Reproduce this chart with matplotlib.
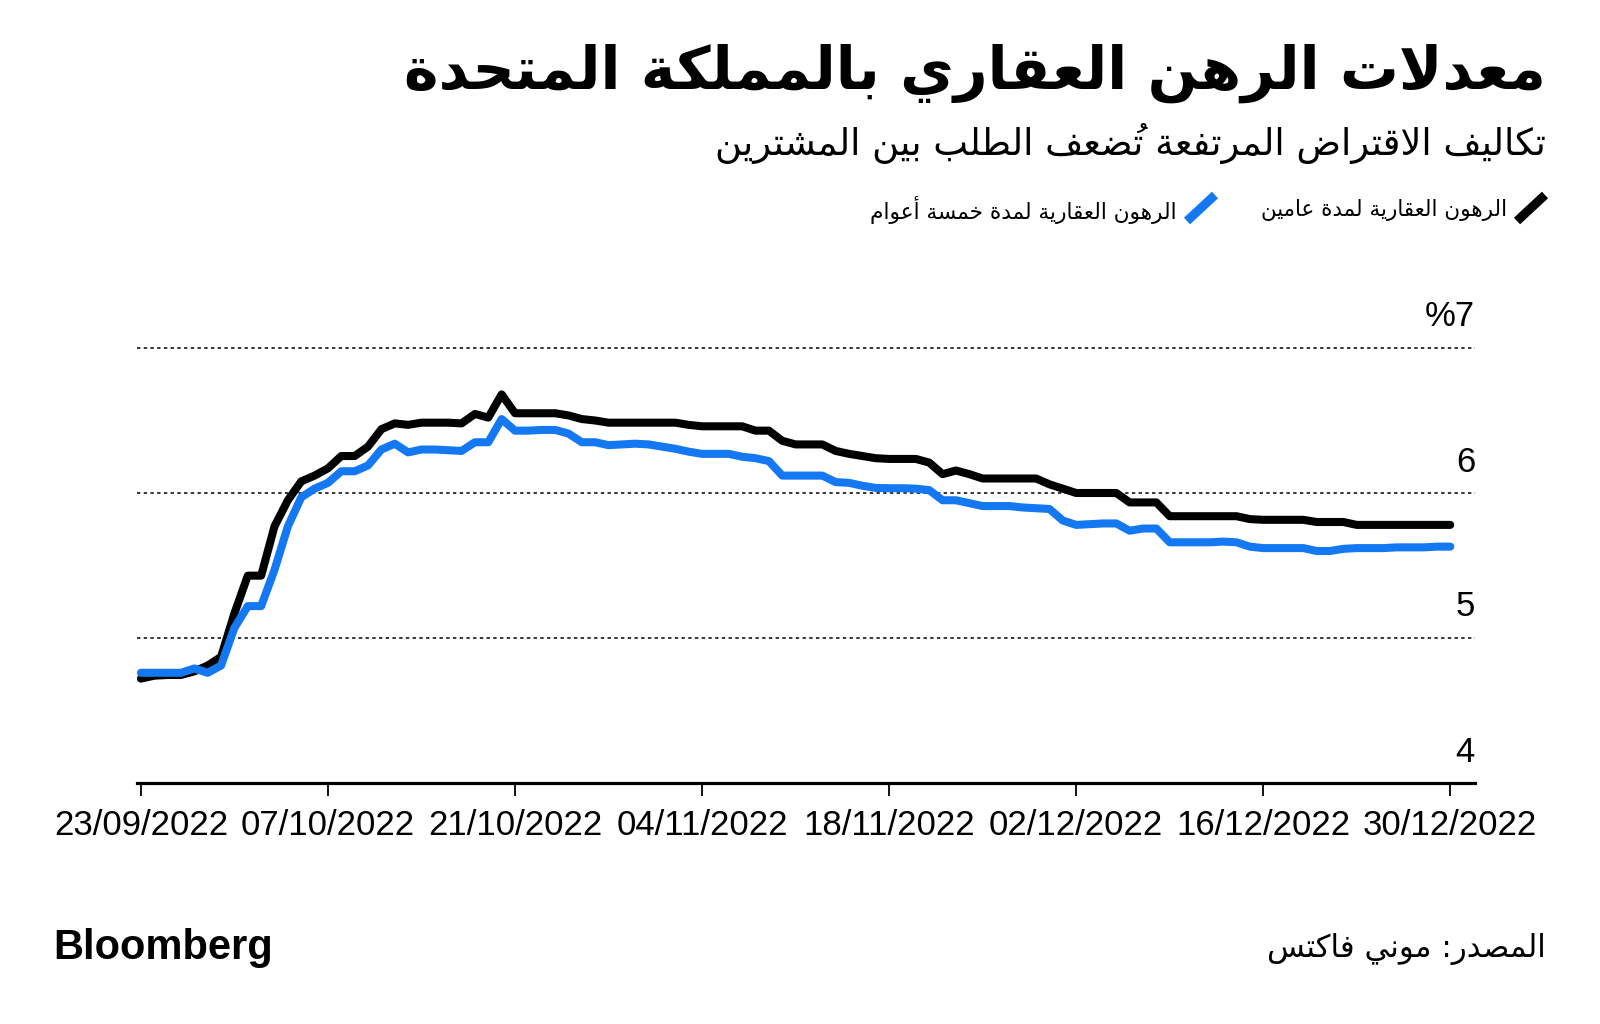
import matplotlib
matplotlib.use("Agg")
import matplotlib.pyplot as plt
import matplotlib.dates as mdates
import matplotlib.transforms as mtransforms
from matplotlib.lines import Line2D
import pandas as pd

# ---------------- data ----------------
start_date = "2022-09-23"
end_date = "2022-12-30"

two_year = [
    4.72, 4.74, 4.745, 4.745, 4.77, 4.81, 4.87, 5.17, 5.43, 5.43,
    5.77, 5.95, 6.08, 6.12, 6.17, 6.255, 6.255, 6.32, 6.44, 6.48,
    6.47, 6.485, 6.485, 6.485, 6.48, 6.545, 6.52, 6.68, 6.55, 6.55,
    6.55, 6.55, 6.535, 6.51, 6.50, 6.485, 6.485, 6.485, 6.485, 6.485,
    6.485, 6.47, 6.46, 6.46, 6.46, 6.46, 6.43, 6.43, 6.36, 6.335,
    6.335, 6.335, 6.29, 6.27, 6.255, 6.24, 6.235, 6.235, 6.235, 6.21,
    6.13, 6.155, 6.13, 6.10, 6.10, 6.10, 6.10, 6.10, 6.06, 6.03,
    6.00, 6.00, 6.00, 6.00, 5.935, 5.935, 5.935, 5.84, 5.84, 5.84,
    5.84, 5.84, 5.84, 5.82, 5.815, 5.815, 5.815, 5.815, 5.80, 5.80,
    5.80, 5.78, 5.78, 5.78, 5.78, 5.78, 5.78, 5.78, 5.78,
]

five_year = [
    4.76, 4.76, 4.76, 4.76, 4.79, 4.76, 4.81, 5.07, 5.22, 5.22,
    5.47, 5.77, 5.97, 6.03, 6.07, 6.15, 6.15, 6.19, 6.30, 6.34,
    6.28, 6.30, 6.30, 6.295, 6.29, 6.35, 6.35, 6.51, 6.43, 6.43,
    6.435, 6.435, 6.41, 6.35, 6.35, 6.33, 6.335, 6.34, 6.335, 6.32,
    6.305, 6.285, 6.27, 6.27, 6.27, 6.25, 6.24, 6.22, 6.12, 6.12,
    6.12, 6.12, 6.075, 6.07, 6.05, 6.035, 6.033, 6.033, 6.03, 6.02,
    5.95, 5.95, 5.93, 5.91, 5.91, 5.91, 5.90, 5.895, 5.89, 5.81,
    5.78, 5.785, 5.79, 5.79, 5.74, 5.755, 5.755, 5.66, 5.66, 5.66,
    5.66, 5.665, 5.66, 5.63, 5.62, 5.62, 5.62, 5.62, 5.60, 5.60,
    5.615, 5.62, 5.62, 5.62, 5.625, 5.625, 5.625, 5.63, 5.63,
]

y_ticks = [4, 5, 6, 7]
y_tick_labels = ["4", "5", "6", "%7"]

title = "معدلات الرهن العقاري بالمملكة المتحدة"
subtitle = "تكاليف الاقتراض المرتفعة تُضعف الطلب بين المشترين"
legend_two = "الرهون العقارية لمدة عامين"
legend_five = "الرهون العقارية لمدة خمسة أعوام"
source = "المصدر: موني فاكتس"
brand = "Bloomberg"

BLACK = "#000000"
BLUE = "#1478F2"

# ---------------- minimal Arabic shaping (contextual forms + RTL order) ----------------
_RIGHT = {'\u0622': 0xFE81, '\u0623': 0xFE83, '\u0624': 0xFE85, '\u0625': 0xFE87,
          '\u0627': 0xFE8D, '\u0629': 0xFE93, '\u062F': 0xFEA9, '\u0630': 0xFEAB,
          '\u0631': 0xFEAD, '\u0632': 0xFEAF, '\u0648': 0xFEED, '\u0649': 0xFEEF}
_DUAL = {'\u0626': 0xFE89, '\u0628': 0xFE8F, '\u062A': 0xFE95, '\u062B': 0xFE99,
         '\u062C': 0xFE9D, '\u062D': 0xFEA1, '\u062E': 0xFEA5, '\u0633': 0xFEB1,
         '\u0634': 0xFEB5, '\u0635': 0xFEB9, '\u0636': 0xFEBD, '\u0637': 0xFEC1,
         '\u0638': 0xFEC5, '\u0639': 0xFEC9, '\u063A': 0xFECD, '\u0641': 0xFED1,
         '\u0642': 0xFED5, '\u0643': 0xFED9, '\u0644': 0xFEDD, '\u0645': 0xFEE1,
         '\u0646': 0xFEE5, '\u0647': 0xFEE9, '\u064A': 0xFEF1}
_LAM_ALEF = {'\u0622': 0xFEF5, '\u0623': 0xFEF7, '\u0625': 0xFEF9, '\u0627': 0xFEFB}


def _is_mark(c):
    return '\u064B' <= c <= '\u0652'


def shape(text):
    chars = list(text)
    n = len(chars)
    out = []
    prev_dual = False
    i = 0
    while i < n:
        c = chars[i]
        if _is_mark(c):
            # place the mark before its base in visual order so it overlays the base
            if out:
                out[-1] = c + out[-1]
            else:
                out.append(c)
            i += 1
            continue
        if c in _DUAL or c in _RIGHT:
            j = i + 1
            while j < n and _is_mark(chars[j]):
                j += 1
            nxt = chars[j] if j < n else None
            if c == '\u0644' and nxt in _LAM_ALEF:
                base = _LAM_ALEF[nxt]
                g = chr(base + 1) if prev_dual else chr(base)
                out.append(''.join(chars[i + 1:j]) + g)
                i = j + 1
                prev_dual = False
                continue
            conn_prev = prev_dual
            conn_next = (c in _DUAL) and nxt is not None and (nxt in _DUAL or nxt in _RIGHT)
            if c in _DUAL:
                base = _DUAL[c]
                idx = 3 if (conn_prev and conn_next) else 1 if conn_prev else 2 if conn_next else 0
            else:
                base = _RIGHT[c]
                idx = 1 if conn_prev else 0
            out.append(chr(base + idx))
            prev_dual = c in _DUAL
            i += 1
        else:
            out.append(c)
            prev_dual = False
            i += 1
    return ''.join(reversed(out))


# ---------------- figure ----------------
W, H = 1600, 1024
fig = plt.figure(figsize=(W / 100, H / 100), dpi=100)
fig.patch.set_facecolor("white")


def fx(px):
    return px / W


def fy(py):
    return 1 - py / H


ax_left, ax_right, ax_top, ax_bottom = 137, 1475, 348, 783
ax = fig.add_axes([fx(ax_left), fy(ax_bottom), (ax_right - ax_left) / W, (ax_bottom - ax_top) / H])

dates = pd.date_range(start_date, end_date, freq="D")
assert len(dates) == len(two_year) == len(five_year)

ax.plot(dates, two_year, color=BLACK, lw=5.8, solid_joinstyle="round", solid_capstyle="round", zorder=3)
ax.plot(dates, five_year, color=BLUE, lw=5.8, solid_joinstyle="round", solid_capstyle="round", zorder=4)

x0 = dates[0] - pd.Timedelta(hours=7)
x1 = dates[0] + pd.Timedelta(days=99.85)
ax.set_xlim(x0, x1)
ax.set_ylim(4, 7)

for v in y_ticks[1:]:
    ax.axhline(v, color=BLACK, lw=1.1, ls=(0, (2.2, 2.2)), zorder=1, clip_on=False)

for s in ["top", "right", "left"]:
    ax.spines[s].set_visible(False)
ax.spines["bottom"].set_linewidth(2.3)
ax.spines["bottom"].set_color(BLACK)
ax.spines["bottom"].set_zorder(5)

ax.set_yticks([])
ax.set_xticks(dates[::14])
ax.xaxis.set_major_formatter(mdates.DateFormatter("%d/%m/%Y"))
ax.tick_params(axis="x", direction="out", length=9.5, width=1.3, color=BLACK, pad=9,
               labelsize=25, labelcolor=BLACK)
for lbl in ax.get_xticklabels():
    lbl.set_fontfamily("Liberation Sans")

trans = mtransforms.offset_copy(
    mtransforms.blended_transform_factory(ax.transAxes, ax.transData), fig=fig, x=0, y=31, units="dots")
for v, lab in zip(y_ticks, y_tick_labels):
    ax.text(1.0, v, lab, transform=trans, ha="right", va="center", fontsize=25,
            family="Liberation Sans", color=BLACK, clip_on=False)

# ---------------- texts ----------------
renderer = fig.canvas.get_renderer()


def fit_text(s, right_px, cy_px, width_px, family, weight="normal", start=30, color=BLACK):
    t = fig.text(fx(right_px), fy(cy_px), s, ha="right", va="center", fontsize=start,
                 family=family, weight=weight, color=color)
    w = t.get_window_extent(renderer).width
    t.set_fontsize(start * width_px / w)
    return t


fit_text(shape(title), 1546, 73, 1140, "DejaVu Sans", weight="bold")
fit_text(shape(subtitle), 1546, 143, 832, "DejaVu Sans")
fit_text(shape(legend_two), 1507, 210, 247, "DejaVu Sans")
fit_text(shape(legend_five), 1177, 210, 307, "DejaVu Sans")
fit_text(shape(source), 1546, 949, 278, "DejaVu Sans")

fig.add_artist(Line2D([fx(1517), fx(1545)], [fy(221), fy(195)], color=BLACK, lw=6.5, solid_capstyle="butt"))
fig.add_artist(Line2D([fx(1187), fx(1215)], [fy(221), fy(195)], color=BLUE, lw=6.5, solid_capstyle="butt"))

fig.text(fx(53), fy(959), brand, ha="left", va="baseline", fontsize=30, weight="bold",
         family="Liberation Sans", color=BLACK)

fig.savefig("out.png", dpi=100, facecolor="white")
